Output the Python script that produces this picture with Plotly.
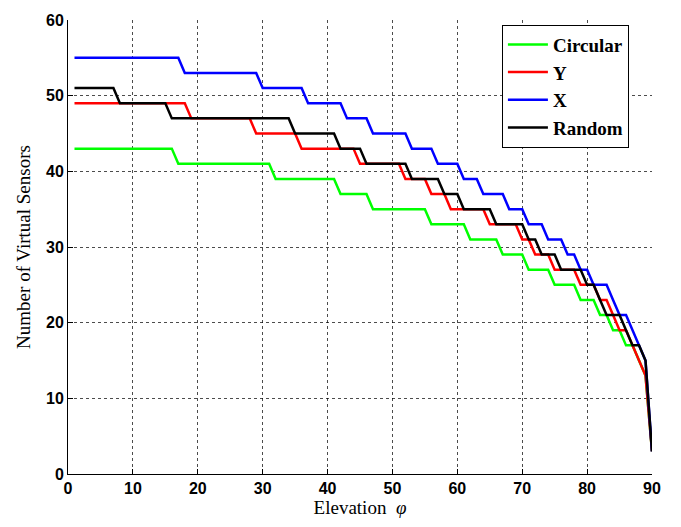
import plotly.graph_objects as go

elevation = list(range(1, 91))

circular = ([43]*16 + [41]*15 + [39]*10 + [37]*5 + [35]*9 + [33]*6 + [31]*5 +
            [29]*4 + [27]*4 + [25]*4 + [23]*3 + [21]*2 + [19]*2 + [17]*2 + [15, 13, 3])
y_array = ([49]*18 + [47]*10 + [45]*7 + [43]*9 + [41]*7 + [39]*4 + [37]*3 + [35]*6 +
           [33]*5 + [31]*2 + [29]*3 + [27]*4 + [25]*3 + [23]*2 + [21] + [19]*2 + [17, 15, 13, 3])
x_array = ([55]*17 + [53]*12 + [51]*7 + [49]*6 + [47]*4 + [45]*6 + [43]*4 + [41]*4 +
           [39]*3 + [37]*4 + [35]*3 + [33]*3 + [31]*3 + [29]*2 + [27]*2 + [25]*3 + [23] +
           [21]*2 + [19, 17, 15, 3])
random_array = ([51]*7 + [49]*8 + [47]*19 + [45]*7 + [43]*4 + [41]*7 + [39]*5 + [37]*3 +
                [35]*5 + [33]*5 + [31]*2 + [29]*3 + [27]*4 + [25]*2 + [23] + [21]*3 + [19] +
                [17]*2 + [15, 3])

series_names = ["Circular", "Y", "X", "Random"]
series_values = [circular, y_array, x_array, random_array]
series_colors = ["#00FF00", "#FF0000", "#0000FF", "#000000"]

x_ticks = [0, 10, 20, 30, 40, 50, 60, 70, 80, 90]
y_ticks = [0, 10, 20, 30, 40, 50, 60]

fig = go.Figure()
for name, vals, col in zip(series_names, series_values, series_colors):
    fig.add_trace(go.Scatter(x=elevation, y=vals, mode="lines", name=name,
                             line=dict(color=col, width=2.5)))

axis_common = dict(
    showline=True, linecolor="black", linewidth=1, mirror=False,
    ticks="inside", ticklen=5, tickcolor="black",
    showgrid=True, gridcolor="rgba(0,0,0,0.7)", gridwidth=1, griddash="dot",
    zeroline=False,
    tickfont=dict(family="Arial, Liberation Sans", size=16, color="black", weight="bold"),
)

fig.update_xaxes(range=[0, 90], tickvals=x_ticks, **axis_common,
                 title=dict(text="Elevation  <i>φ</i>", standoff=4,
                            font=dict(family="Times New Roman, Liberation Serif", size=19, color="black")))
fig.update_yaxes(range=[0, 60], tickvals=y_ticks, **axis_common,
                 title=dict(text="Number of Virtual Sensors", standoff=10,
                            font=dict(family="Times New Roman, Liberation Serif", size=19, color="black")))

fig.update_layout(
    width=681, height=527,
    margin=dict(l=68, r=29, t=13, b=53),
    plot_bgcolor="white", paper_bgcolor="white",
    legend=dict(x=0.743, y=0.99, xanchor="left", yanchor="top",
                bordercolor="black", borderwidth=1, bgcolor="white",
                font=dict(family="Times New Roman, Liberation Serif", size=19, color="black", weight="bold"),
                tracegroupgap=0, itemwidth=40),
    showlegend=True,
)

fig.write_html("out.html")
